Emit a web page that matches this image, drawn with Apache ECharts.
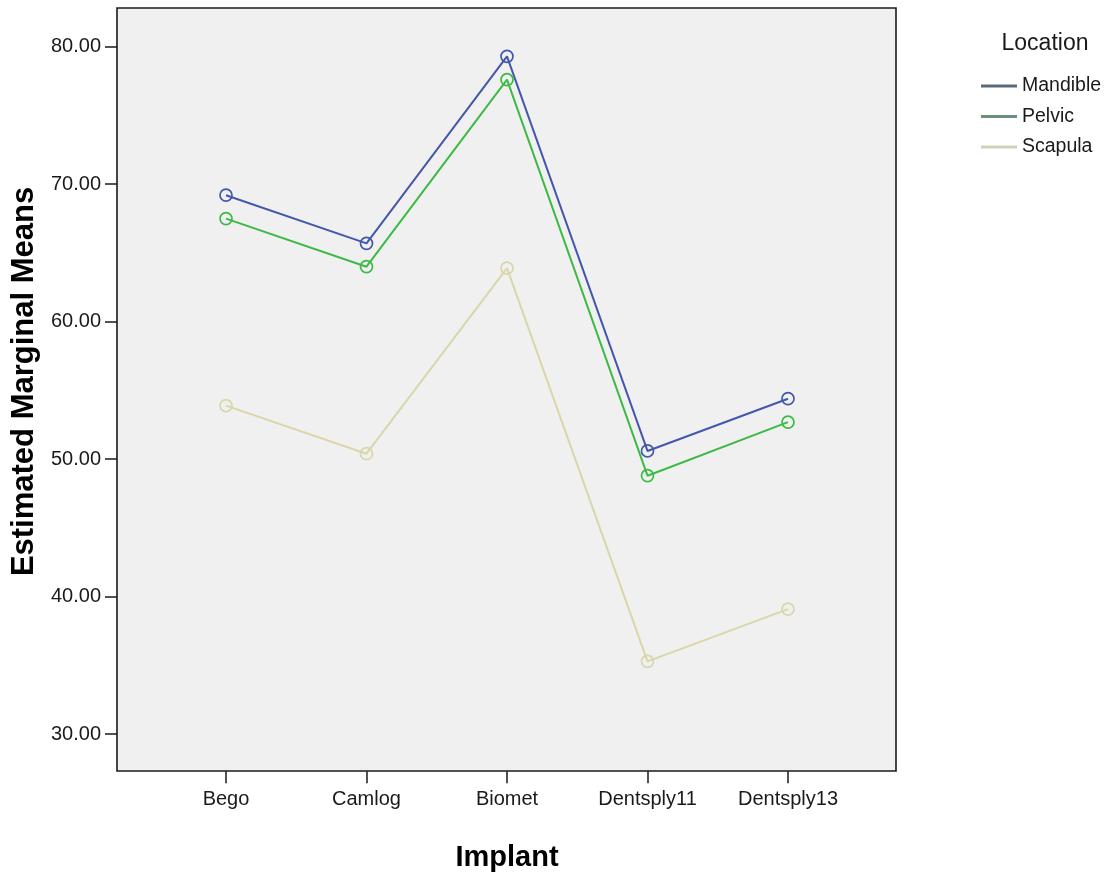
<!DOCTYPE html>
<html>
<head>
<meta charset="utf-8">
<script src="https://cdn.jsdelivr.net/npm/echarts@6/dist/echarts.min.js"></script>
<style>
  html, body { margin: 0; padding: 0; background: #ffffff; }
  #chart { width: 1119px; height: 879px; }
</style>
</head>
<body>
<div id="chart"></div>
<script>
// ---- data ----
const categories = ['Bego', 'Camlog', 'Biomet', 'Dentsply11', 'Dentsply13'];
const mandible = [69.2, 65.7, 79.3, 50.6, 54.4];
const pelvic   = [67.5, 64.0, 77.6, 48.8, 52.7];
const scapula  = [53.9, 50.4, 63.9, 35.3, 39.1];
const seriesNames = ['Mandible', 'Pelvic', 'Scapula'];
const yTicks = { min: 30, max: 80, step: 10 };
const legendTitle = 'Location';
const xTitle = 'Implant';
const yTitle = 'Estimated Marginal Means';

// ---- style ----
const colors = ['#4457aa', '#3dba46', '#d9d7a9'];
const legendColors = ['#5a6878', '#6a9079', '#cfd2b8'];
const font = 'Liberation Sans, Arial, sans-serif';
const textColor = '#1a1a1a';

const chart = echarts.init(document.getElementById('chart'), null, { renderer: 'canvas' });

function mk(name, data, color) {
  return {
    name: name,
    type: 'line',
    xAxisIndex: 1,
    yAxisIndex: 1,
    data: data,
    symbol: 'circle',
    symbolSize: 12,
    showSymbol: true,
    lineStyle: { color: color, width: 2 },
    itemStyle: { color: 'rgba(0,0,0,0)', borderColor: color, borderWidth: 1.7 },
    emphasis: { disabled: true },
    animation: false
  };
}

const option = {
  backgroundColor: '#ffffff',
  animation: false,
  title: {
    text: legendTitle,
    left: 1040,
    top: 27,
    textAlign: 'center',
    textStyle: { fontFamily: font, fontSize: 23, fontWeight: 'normal', color: textColor }
  },
  legend: {
    orient: 'vertical',
    left: 976,
    top: 71,
    itemWidth: 36,
    itemHeight: 3,
    itemGap: 10.5,
    icon: 'rect',
    textStyle: { fontFamily: font, fontSize: 19.5, color: textColor, lineHeight: 20 },
    data: seriesNames.map((n, i) => ({
      name: n,
      icon: 'rect',
      itemStyle: { color: legendColors[i], borderWidth: 0 },
      lineStyle: { color: legendColors[i] }
    }))
  },
  grid: [
    { left: 117, top: 8, right: 223, bottom: 108, show: true, backgroundColor: '#f0f0f0',
      borderColor: '#1a1a1a', borderWidth: 1.6 },
    { left: 226, top: 46.7, right: 331, bottom: 144.8, show: false }
  ],
  xAxis: [
    { gridIndex: 0, type: 'value', show: false },
    {
      gridIndex: 1, type: 'category', data: categories, boundaryGap: false,
      offset: 37,
      axisLine: { show: false },
      axisTick: { show: true, length: 12, lineStyle: { color: textColor, width: 1.5 } },
      axisLabel: { margin: 18, fontFamily: font, fontSize: 20, color: textColor },
      splitLine: { show: false },
      name: xTitle, nameLocation: 'middle', nameGap: 72,
      nameTextStyle: { fontFamily: font, fontSize: 29, fontWeight: 'bold', color: '#000' }
    }
  ],
  yAxis: [
    { gridIndex: 0, type: 'value', show: false },
    {
      gridIndex: 1, type: 'value', min: yTicks.min, max: yTicks.max, interval: yTicks.step,
      offset: 109,
      axisLine: { show: false },
      axisTick: { show: true, length: 12, lineStyle: { color: textColor, width: 1.5 } },
      axisLabel: { margin: 16, fontFamily: font, fontSize: 20, color: textColor,
                   formatter: v => v.toFixed(2) },
      splitLine: { show: false },
      name: yTitle, nameLocation: 'middle', nameGap: 67, nameRotate: 90,
      nameTextStyle: { fontFamily: font, fontSize: 31, fontWeight: 'bold', color: '#000',
                       padding: [0, 0, 0, 18] }
    }
  ],
  series: [
    mk(seriesNames[0], mandible, colors[0]),
    mk(seriesNames[1], pelvic, colors[1]),
    mk(seriesNames[2], scapula, colors[2])
  ]
};
chart.setOption(option);
</script>
</body>
</html>
